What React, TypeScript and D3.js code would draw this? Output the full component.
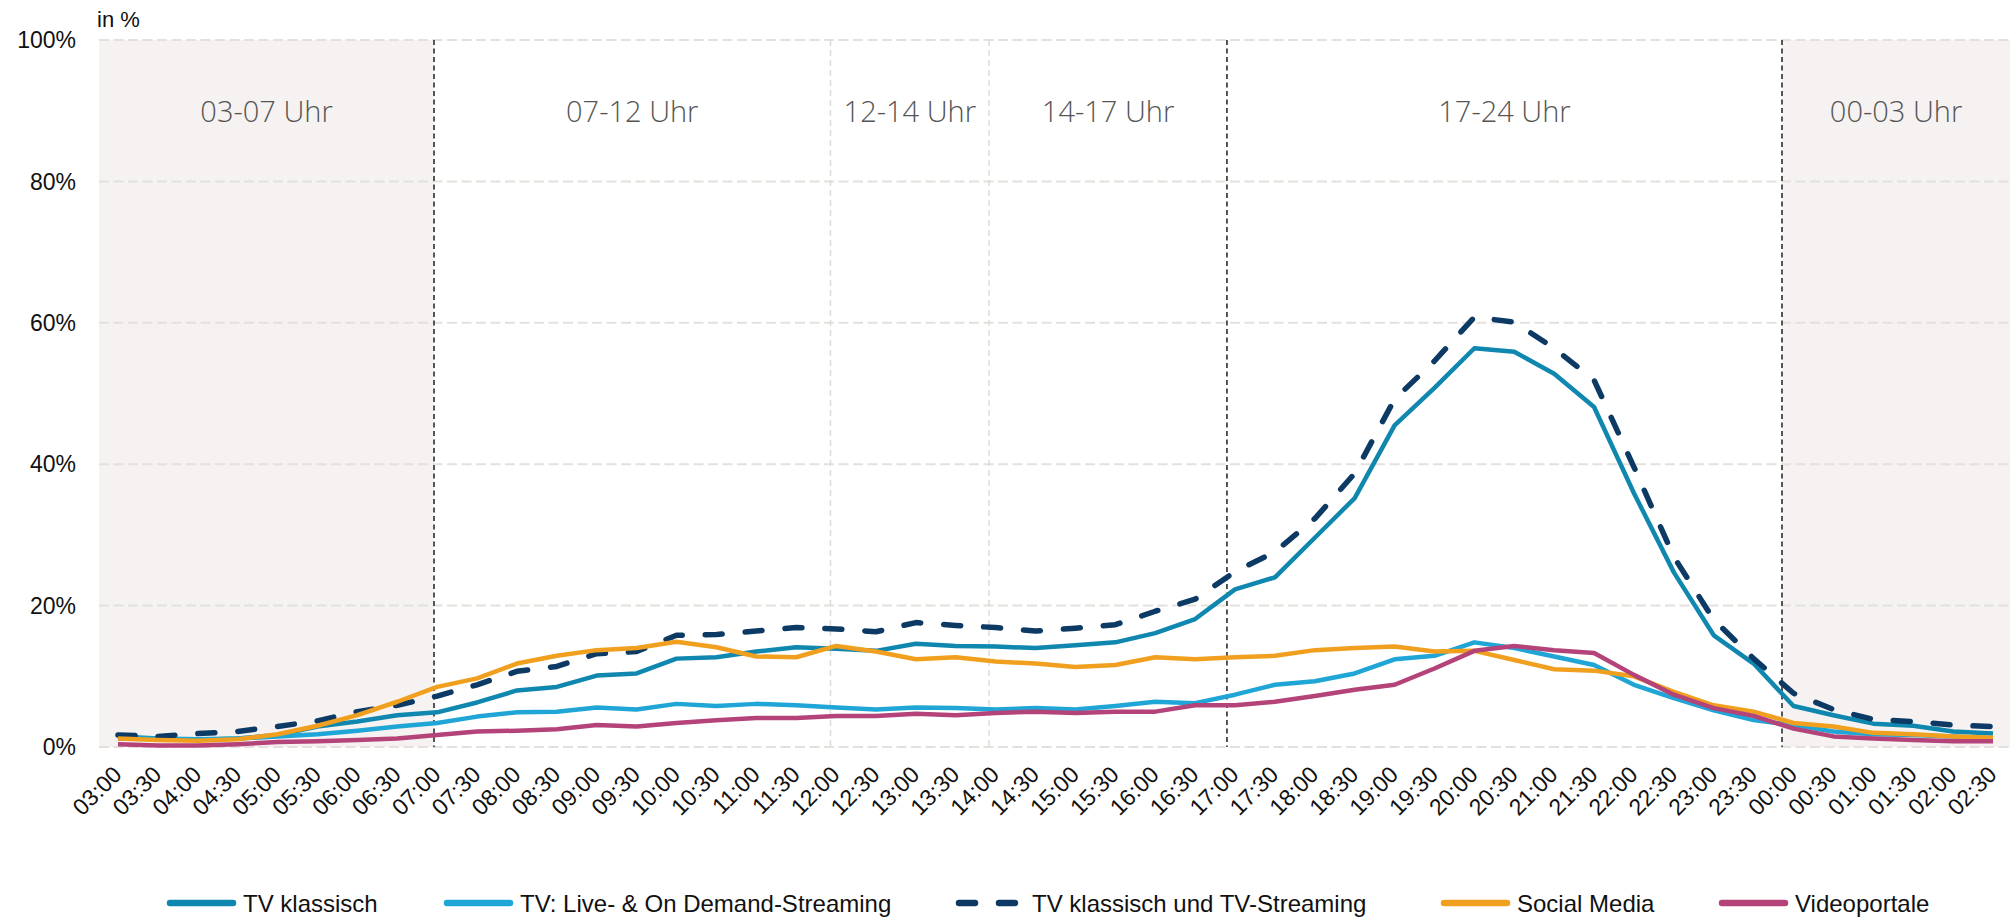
import React from "react";
import * as d3 from "d3";

const times = ["03:00","03:30","04:00","04:30","05:00","05:30","06:00","06:30","07:00","07:30","08:00","08:30","09:00","09:30","10:00","10:30","11:00","11:30","12:00","12:30","13:00","13:30","14:00","14:30","15:00","15:30","16:00","16:30","17:00","17:30","18:00","18:30","19:00","19:30","20:00","20:30","21:00","21:30","22:00","22:30","23:00","23:30","00:00","00:30","01:00","01:30","02:00","02:30"];

const tvKlassisch = [1.5,1.2,1.0,1.2,1.7,2.9,3.6,4.5,4.9,6.3,8.0,8.5,10.1,10.4,12.5,12.7,13.5,14.1,13.9,13.6,14.6,14.3,14.2,14.0,14.4,14.8,16.1,18.1,22.3,24.0,29.6,35.2,45.5,50.8,56.4,55.9,52.8,48.1,35.9,24.7,15.8,11.8,5.8,4.5,3.3,3.0,2.2,1.9];
const tvStreaming = [1.2,1.2,1.1,1.2,1.5,1.8,2.3,2.9,3.4,4.3,4.9,5.0,5.6,5.3,6.1,5.8,6.1,5.9,5.6,5.3,5.6,5.5,5.3,5.5,5.3,5.8,6.4,6.2,7.4,8.8,9.3,10.4,12.4,12.9,14.8,14.0,12.8,11.6,8.8,6.9,5.2,3.8,3.1,2.2,1.8,1.7,1.5,1.2];
const tvGesamt = [1.7,1.5,1.9,2.2,2.9,3.7,5.0,5.9,7.2,8.8,10.7,11.4,13.2,13.5,15.8,15.9,16.4,16.9,16.7,16.3,17.6,17.2,16.9,16.4,16.8,17.3,19.2,20.9,24.8,27.6,32.3,38.7,49.2,54.6,60.8,60.1,56.4,51.9,39.6,26.9,18.0,12.5,7.6,5.3,3.9,3.6,3.1,2.9];
const socialMedia = [1.2,1.0,0.9,1.1,1.8,3.0,4.5,6.4,8.5,9.7,11.8,12.9,13.7,14.0,14.9,14.1,12.8,12.7,14.3,13.5,12.4,12.7,12.1,11.8,11.3,11.6,12.7,12.4,12.7,12.9,13.7,14.0,14.2,13.5,13.6,12.3,11.0,10.8,10.0,7.8,5.9,5.0,3.4,2.9,2.0,1.8,1.5,1.3];
const videoportale = [0.4,0.2,0.2,0.4,0.7,0.8,1.0,1.2,1.7,2.2,2.3,2.5,3.1,2.9,3.4,3.8,4.1,4.1,4.4,4.4,4.7,4.5,4.8,5.0,4.8,5.0,5.0,5.9,5.9,6.4,7.2,8.1,8.8,11.1,13.6,14.3,13.7,13.3,10.2,7.4,5.5,4.4,2.6,1.5,1.2,1.0,0.8,0.8];

const seriesNames = ["TV klassisch","TV: Live- & On Demand-Streaming","TV klassisch und TV-Streaming","Social Media","Videoportale"];
const seriesColors = ["#0f87ae","#1fa6d6","#0c3a64","#f0a01e","#b4437a"];
const seriesDashed = [false,false,true,false,false];
const seriesValues = [tvKlassisch, tvStreaming, tvGesamt, socialMedia, videoportale];

const yTicks = [0,20,40,60,80,100];

// time-of-day periods (hours, 24+ = next day)
const periodLabels = ["03-07 Uhr","07-12 Uhr","12-14 Uhr","14-17 Uhr","17-24 Uhr","00-03 Uhr"];
const periodStart = [3,7,12,14,17,24];
const periodEnd = [7,12,14,17,24,27];
const periodShaded = [true,false,false,false,false,true];
const strongDividers = [7,17,24];
const lightDividers = [12,14];

const W = 2010, H = 921;
const plotL = 99, plotR = 2010, plotT = 40, plotB = 747;

export default function App() {
  const x = d3.scalePoint<string>().domain(times).range([118, 1993]);
  const y = d3.scaleLinear().domain([0, 100]).range([plotB, plotT]);
  const hx = d3.scaleLinear().domain([7, 24]).range([434, 1782]);
  const clampX = (v: number) => Math.max(plotL, Math.min(plotR, v));

  const line = d3.line<number>()
    .x((_, i) => x(times[i]) as number)
    .y((d) => y(d));

  const legendX = [167, 444, 956, 1441, 1719];
  const legendY = 903;

  return (
    <div style={{ position: "absolute", left: 0, top: 0 }}>
      <svg width={W} height={H} style={{ display: "block", background: "#fff" }}>
        {periodLabels.map((lab, i) => {
          const x0 = i === 0 ? plotL : clampX(hx(periodStart[i]));
          const x1 = i === periodLabels.length - 1 ? plotR : clampX(hx(periodEnd[i]));
          return periodShaded[i] ? (
            <rect key={"s" + i} x={x0} y={plotT} width={x1 - x0} height={plotB - plotT} fill="#f5f2f1" />
          ) : null;
        })}
        {yTicks.map((t) => (
          <line key={"g" + t} x1={plotL} x2={plotR} y1={y(t)} y2={y(t)} stroke="#e4e1dc" strokeWidth={2} strokeDasharray="10,4.5" />
        ))}
        {lightDividers.map((h) => (
          <line key={"ld" + h} x1={hx(h)} x2={hx(h)} y1={plotT} y2={plotB} stroke="#dedbd7" strokeWidth={1.5} strokeDasharray="6,4" />
        ))}
        {strongDividers.map((h) => (
          <line key={"sd" + h} x1={hx(h)} x2={hx(h)} y1={plotT} y2={plotB} stroke="#444" strokeWidth={1.8} strokeDasharray="5,3.5" />
        ))}
        {periodLabels.map((lab, i) => {
          const x0 = i === 0 ? plotL : clampX(hx(periodStart[i]));
          const x1 = i === periodLabels.length - 1 ? plotR : clampX(hx(periodEnd[i]));
          return (
            <text key={"p" + i} x={(x0 + x1) / 2} y={122} textAnchor="middle" fontFamily="'Open Sans', Lato, sans-serif" fontWeight={300} fontSize={29} fill="#555">
              {lab}
            </text>
          );
        })}
        {yTicks.map((t) => (
          <text key={"yl" + t} x={76} y={y(t)} dy="0.36em" textAnchor="end" fontFamily="'Liberation Sans', Arial, sans-serif" fontSize={23} fill="#111">
            {t}%
          </text>
        ))}
        <text x={97} y={27} fontFamily="'Liberation Sans', Arial, sans-serif" fontSize={22} fill="#111">in %</text>
        {times.map((t) => {
          const px = (x(t) as number) + 5;
          const py = 776;
          return (
            <text key={"xl" + t} x={px} y={py} textAnchor="end" transform={`rotate(-45 ${px} ${py})`} fontFamily="'Liberation Sans', Arial, sans-serif" fontSize={23} fill="#111">
              {t}
            </text>
          );
        })}
        {seriesValues.map((vals, i) => (
          <path key={"l" + i} d={line(vals) || ""} fill="none" stroke={seriesColors[i]} strokeWidth={seriesDashed[i] ? 5.5 : 4.5}
            strokeLinejoin="round" strokeLinecap={seriesDashed[i] ? "round" : "butt"} strokeDasharray={seriesDashed[i] ? "17,23" : undefined} />
        ))}
        {seriesNames.map((n, i) => (
          <g key={"lg" + i}>
            <line x1={legendX[i] + 3} x2={legendX[i] + 66} y1={legendY} y2={legendY} stroke={seriesColors[i]} strokeWidth={6.5}
              strokeLinecap="round" strokeDasharray={seriesDashed[i] ? "16,24" : undefined} />
            <text x={legendX[i] + 76} y={legendY} dy="0.36em" fontFamily="'Liberation Sans', Arial, sans-serif" fontSize={24} fill="#111">{n}</text>
          </g>
        ))}
      </svg>
    </div>
  );
}
